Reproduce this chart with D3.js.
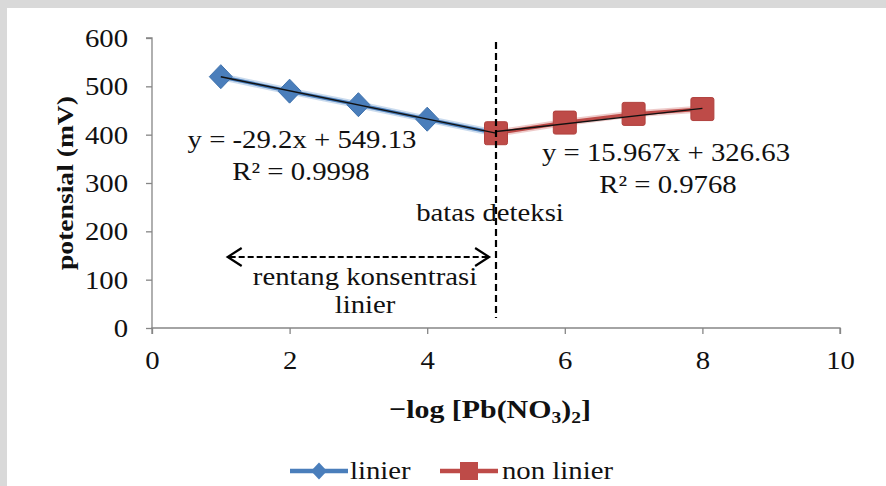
<!DOCTYPE html>
<html>
<head>
<meta charset="utf-8">
<script src="https://cdn.jsdelivr.net/npm/d3@7"></script>
<style>
  body { margin: 0; background: #d9d9d9; }
  svg text { font-family: "Liberation Serif", "Times New Roman", serif; fill: #111; }
</style>
</head>
<body>
<svg id="chart" width="886" height="486"></svg>
<script>
// data
const xLinier = [1, 2, 3, 4, 5];
const yLinier = [520, 490, 462, 432, 403];
const xNonLinier = [5, 6, 7, 8];
const yNonLinier = [403, 425, 443, 453];
const xTicks = [0, 2, 4, 6, 8, 10];
const yTicks = [0, 100, 200, 300, 400, 500, 600];
const trendLinier = { slope: -29.2, intercept: 549.13, r2: "0.9998" };
const trendNonLinier = { slope: 15.967, intercept: 326.63, r2: "0.9768" };
const detectionLimit = 5;
const rangeStart = 1.1, rangeEnd = 4.9;

// the original text is a little stretched sideways
const SX = 1.15;

const svg = d3.select("#chart");

// white page area (gray band on top and left)
svg.append("rect").attr("x", 7).attr("y", 8).attr("width", 879).attr("height", 478).attr("fill", "#fff");

const x = d3.scaleLinear().domain([0, 10]).range([152, 840]);
const y = d3.scaleLinear().domain([0, 600]).range([328, 38]);

const axisColor = "#868686";

// places a text at (tx, ty) with the sideways stretch
function label(tx, ty, s, size, anchor, rot) {
  return svg.append("text")
    .attr("transform", `translate(${tx},${ty})${rot ? ` rotate(${rot})` : ""} scale(${SX},1)`)
    .attr("text-anchor", anchor || "middle")
    .style("font-size", size + "px")
    .text(s);
}

// y axis
const gy = svg.append("g").attr("transform", `translate(${x(0)},0)`)
  .call(d3.axisLeft(y).tickValues(yTicks).tickSize(6));
// x axis
const gx = svg.append("g").attr("transform", `translate(0,${y(0)})`)
  .call(d3.axisBottom(x).tickValues(xTicks).tickSize(6));

[gx, gy].forEach(g => {
  g.attr("font-family", null).attr("font-size", null);
  g.select(".domain").attr("stroke", axisColor).attr("stroke-width", 1.3);
  g.selectAll(".tick line").attr("stroke", axisColor).attr("stroke-width", 1.3);
});
gy.selectAll(".tick text")
  .attr("x", null).attr("dy", "0.34em")
  .attr("transform", `translate(-24,0) scale(${SX},1)`)
  .style("font-size", "25px");
gx.selectAll(".tick text")
  .attr("y", null).attr("dy", null)
  .attr("transform", `translate(0,41) scale(${SX},1)`)
  .style("font-size", "25px");
gy.select(".domain").attr("d", `M-6,${y(600)}H0V${y(0)}`);
gx.select(".domain").attr("d", `M${x(0)},6V0H${x(10)}V6`);

// axis titles
label(73, (y(0) + y(600)) / 2, "potensial (mV)", 24, "middle", -90).style("font-weight", "bold");

const xt = label(490, 418, "", 26).style("font-weight", "bold");
xt.append("tspan").text("\u2212log [Pb(NO");
xt.append("tspan").attr("dy", 5).style("font-size", "17px").text("3");
xt.append("tspan").attr("dy", -5).text(")");
xt.append("tspan").attr("dy", 5).style("font-size", "17px").text("2");
xt.append("tspan").attr("dy", -5).text("]");

// series lines
const line = d3.line().x(d => x(d[0])).y(d => y(d[1]));
const linierPts = xLinier.map((v, i) => [v, yLinier[i]]);
const nonLinierPts = xNonLinier.map((v, i) => [v, yNonLinier[i]]);

function drawSeries(pts, color, glow) {
  svg.append("path").datum(pts).attr("d", line).attr("fill", "none")
    .attr("stroke", glow).attr("stroke-width", 7).attr("opacity", 0.55);
  svg.append("path").datum(pts).attr("d", line).attr("fill", "none")
    .attr("stroke", color).attr("stroke-width", 3.5);
}
drawSeries(linierPts, "#4a7ebb", "#9fbde0");
drawSeries(nonLinierPts, "#be4b48", "#e0a09e");

// markers
const diamondPath = (w, h) => `M0,${-h}L${w},0L0,${h}L${-w},0Z`;
svg.append("g").selectAll("path").data(linierPts).join("path")
  .attr("d", diamondPath(11.5, 12))
  .attr("transform", d => `translate(${x(d[0])},${y(d[1])})`)
  .attr("fill", "#4a7ebb").attr("stroke", "#3f72ad").attr("stroke-width", 1);

svg.append("g").selectAll("rect").data(nonLinierPts).join("rect")
  .attr("x", d => x(d[0]) - 11.5).attr("y", d => y(d[1]) - 11.5)
  .attr("width", 23).attr("height", 23).attr("rx", 2)
  .attr("fill", "#be4b48").attr("stroke", "#b0403d").attr("stroke-width", 1);

// trend lines
function trend(t, x0, x1) {
  svg.append("path").datum([[x0, t.slope * x0 + t.intercept], [x1, t.slope * x1 + t.intercept]])
    .attr("d", line).attr("stroke", "#111").attr("stroke-width", 1.4).attr("fill", "none");
}
trend(trendLinier, xLinier[0], xLinier[xLinier.length - 1]);
trend(trendNonLinier, xNonLinier[0], xNonLinier[xNonLinier.length - 1]);

// detection limit dashed line
svg.append("line")
  .attr("x1", x(detectionLimit)).attr("x2", x(detectionLimit))
  .attr("y1", 42).attr("y2", 318)
  .attr("stroke", "#000").attr("stroke-width", 2.2).attr("stroke-dasharray", "7,4");

// double arrow for linear range
const ay = 257;
svg.append("line")
  .attr("x1", x(rangeStart) + 2).attr("x2", x(rangeEnd) - 2).attr("y1", ay).attr("y2", ay)
  .attr("stroke", "#000").attr("stroke-width", 2).attr("stroke-dasharray", "6,3");
svg.append("path")
  .attr("d", `M${x(rangeStart) + 14},${ay - 9}L${x(rangeStart)},${ay}L${x(rangeStart) + 14},${ay + 9}`)
  .attr("fill", "none").attr("stroke", "#000").attr("stroke-width", 2.2);
svg.append("path")
  .attr("d", `M${x(rangeEnd) - 14},${ay - 9}L${x(rangeEnd)},${ay}L${x(rangeEnd) - 14},${ay + 9}`)
  .attr("fill", "none").attr("stroke", "#000").attr("stroke-width", 2.2);

// annotations
label(302, 148, `y = ${trendLinier.slope}x + ${trendLinier.intercept}`, 25);
label(301, 180, `R\u00b2 = ${trendLinier.r2}`, 25);
label(666, 161, `y = ${trendNonLinier.slope}x + ${trendNonLinier.intercept}`, 25);
label(668, 193, `R\u00b2 = ${trendNonLinier.r2}`, 25);
label(490, 221, "batas deteksi", 25);
label(365, 285, "rentang konsentrasi", 25);
label(365, 313, "linier", 25);

// legend
svg.append("line").attr("x1", 290).attr("x2", 348).attr("y1", 471).attr("y2", 471)
  .attr("stroke", "#4a7ebb").attr("stroke-width", 4.5);
svg.append("path").attr("d", diamondPath(8, 8.5))
  .attr("transform", "translate(319,471)").attr("fill", "#4a7ebb");
label(350, 479, "linier", 25, "start");

svg.append("line").attr("x1", 440).attr("x2", 498).attr("y1", 471).attr("y2", 471)
  .attr("stroke", "#be4b48").attr("stroke-width", 4.5);
svg.append("rect").attr("x", 460).attr("y", 462).attr("width", 18).attr("height", 18)
  .attr("fill", "#be4b48");
label(502, 479, "non linier", 25, "start");
</script>
</body>
</html>
